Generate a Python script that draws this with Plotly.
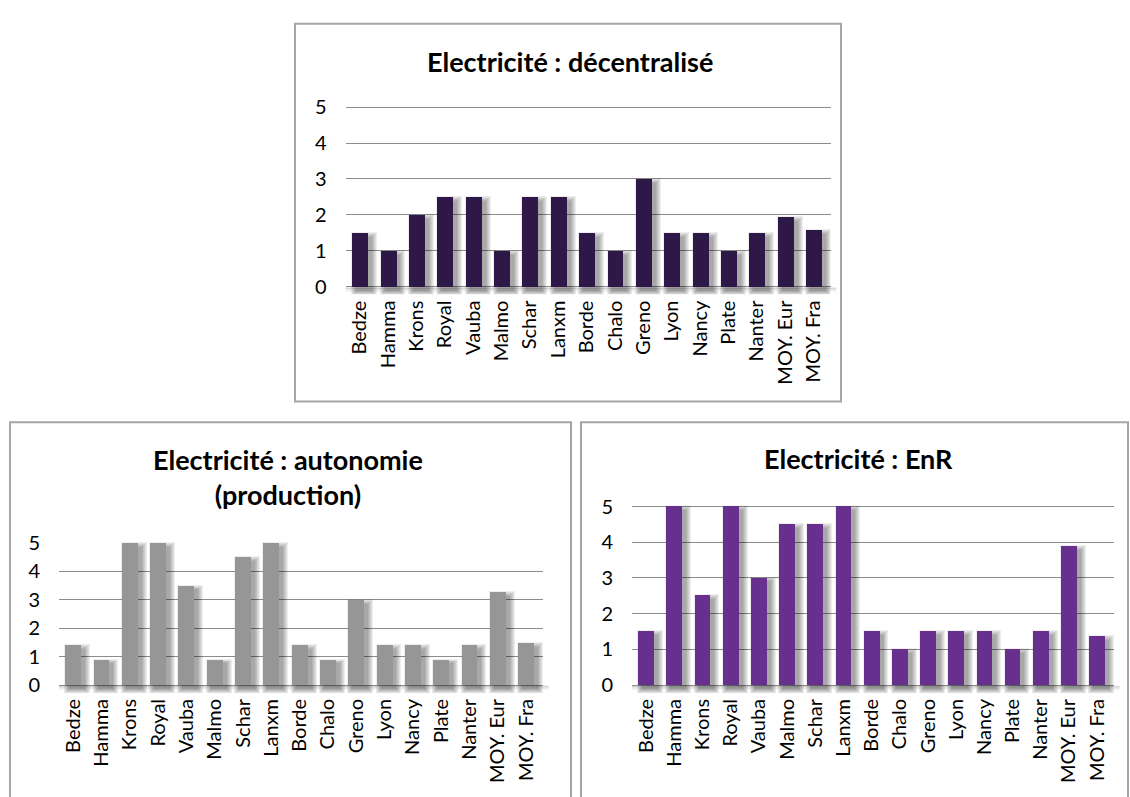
import plotly.graph_objects as go

# ---- data -------------------------------------------------------------
sites = ["Bedze", "Hamma", "Krons", "Royal", "Vauba", "Malmo", "Schar", "Lanxm",
         "Borde", "Chalo", "Greno", "Lyon", "Nancy", "Plate", "Nanter",
         "MOY. Eur", "MOY. Fra"]

decentralise = [1.5, 1, 2, 2.5, 2.5, 1, 2.5, 2.5, 1.5, 1, 3, 1.5, 1.5, 1, 1.5, 1.94, 1.57]
autonomie = [1.4, 0.9, 5, 5, 3.5, 0.9, 4.5, 5, 1.4, 0.9, 3, 1.4, 1.4, 0.9, 1.4, 3.28, 1.49]
enr = [1.5, 5, 2.5, 5, 3, 4.5, 4.5, 5, 1.5, 1, 1.5, 1.5, 1.5, 1, 1.5, 3.88, 1.36]

y_ticks = [0, 1, 2, 3, 4, 5]

titles = ["Electricité : décentralisé",
          "Electricité : autonomie<br>(production)",
          "Electricité : EnR"]

# ---- layout geometry (pixels) ------------------------------------------
W, H = 1130, 797
FONT = "Lato"

panels = [
    # values, colour, title, box (x0,y0,x1,y1), plot x0,x1, y at 5, y at 0, title centre
    dict(vals=decentralise, color="#2E1847", title=titles[0],
         box=(295, 12, 841, 397), px=(345.5, 830.5), y5=97, y0=280, tc=(570, 50)),
    dict(vals=autonomie, color="#969696", title=titles[1],
         box=(10, 418, 571, 820), px=(59, 543), y5=541, y0=686, tc=(288, 474)),
    dict(vals=enr, color="#67308F", title=titles[2],
         box=(581, 418, 1128, 820), px=(632, 1114), y5=504, y0=686, tc=(858, 455)),
]

fig = go.Figure()
shapes = []
annotations = []

BAR_W = 0.56
SHADOW_PX = 8.0
TOP_PAD = 0.03   # headroom so the top gridline is drawn

for i, p in enumerate(panels):
    n = "" if i == 0 else str(i + 1)
    xa, ya = "x" + n, "y" + n
    unit_y = (p["y0"] - p["y5"]) / 5.0               # px per value unit
    unit_x = (p["px"][1] - p["px"][0]) / len(sites)  # px per category
    lo = -SHADOW_PX / unit_y
    bottom_px = p["y0"] + SHADOW_PX
    top_px = p["y5"] - TOP_PAD * unit_y

    # soft drop shadow down/right of each bar: stacked translucent bars
    sx, sy = 4.0, 4.0
    for r in [0, 1, 2, 3, 4, 5]:
        dx = sx / unit_x
        dr_x = r / unit_x
        dr_y = r / unit_y
        dy = sy / unit_y
        bases = [-dy - dr_y] * len(sites)
        heights = [v + 2 * dr_y for v in p["vals"]]
        fig.add_trace(go.Bar(
            x=sites, y=heights, base=bases,
            width=BAR_W + 2 * dr_x, offset=-BAR_W / 2 + dx - dr_x,
            marker=dict(color="rgba(0,0,0,0.065)", line=dict(width=0)),
            xaxis=xa, yaxis=ya, hoverinfo="skip", showlegend=False))

    fig.add_trace(go.Bar(
        x=sites, y=p["vals"], width=BAR_W, offset=-BAR_W / 2,
        marker=dict(color=p["color"], line=dict(width=0)),
        xaxis=xa, yaxis=ya, showlegend=False))

    xkey = "xaxis" + n
    ykey = "yaxis" + n
    fig.layout[xkey] = dict(
        domain=[p["px"][0] / W, p["px"][1] / W], anchor=ya,
        showgrid=False, zeroline=False, showline=False, ticks="",
        tickangle=-90, ticklabelstandoff=1,
        tickfont=dict(family=FONT, size=20, color="#000000"),
        categoryorder="array", categoryarray=sites, fixedrange=True)
    fig.layout[ykey] = dict(
        domain=[1 - bottom_px / H, 1 - top_px / H], anchor=xa,
        range=[lo, 5 + TOP_PAD], tickvals=y_ticks, showgrid=True,
        gridcolor="#8C8C8C", gridwidth=1, zeroline=False, showline=False,
        ticks="", ticklabelstandoff=18,
        tickfont=dict(family=FONT, size=20, color="#000000"), fixedrange=True)

    # soft shadow under the category axis line
    for k, a in [(1.5, 0.16), (3.0, 0.09), (4.5, 0.04)]:
        shapes.append(dict(type="line", xref=xa + " domain", yref=ya,
                           x0=0, x1=1.012, y0=-k / unit_y, y1=-k / unit_y,
                           line=dict(color="rgba(0,0,0,%s)" % a, width=1.5),
                           layer="below"))

    bx0, by0, bx1, by1 = p["box"]
    shapes.append(dict(type="rect", xref="paper", yref="paper",
                       x0=bx0 / W, x1=bx1 / W, y0=1 - by1 / H, y1=1 - by0 / H,
                       line=dict(color="#A6A6A6", width=2), layer="below"))
    annotations.append(dict(text="<b>" + p["title"] + "</b>", xref="paper", yref="paper",
                            x=p["tc"][0] / W, y=1 - p["tc"][1] / H,
                            xanchor="center", yanchor="middle", showarrow=False,
                            font=dict(family=FONT, size=27, color="#000000"),
                            align="center"))

fig.update_layout(
    width=W, height=H, margin=dict(l=0, r=0, t=0, b=0),
    paper_bgcolor="#FFFFFF", plot_bgcolor="rgba(0,0,0,0)",
    barmode="overlay", bargap=0, showlegend=False,
    shapes=shapes, annotations=annotations,
)

fig.write_html("out.html", config={"displayModeBar": False})
